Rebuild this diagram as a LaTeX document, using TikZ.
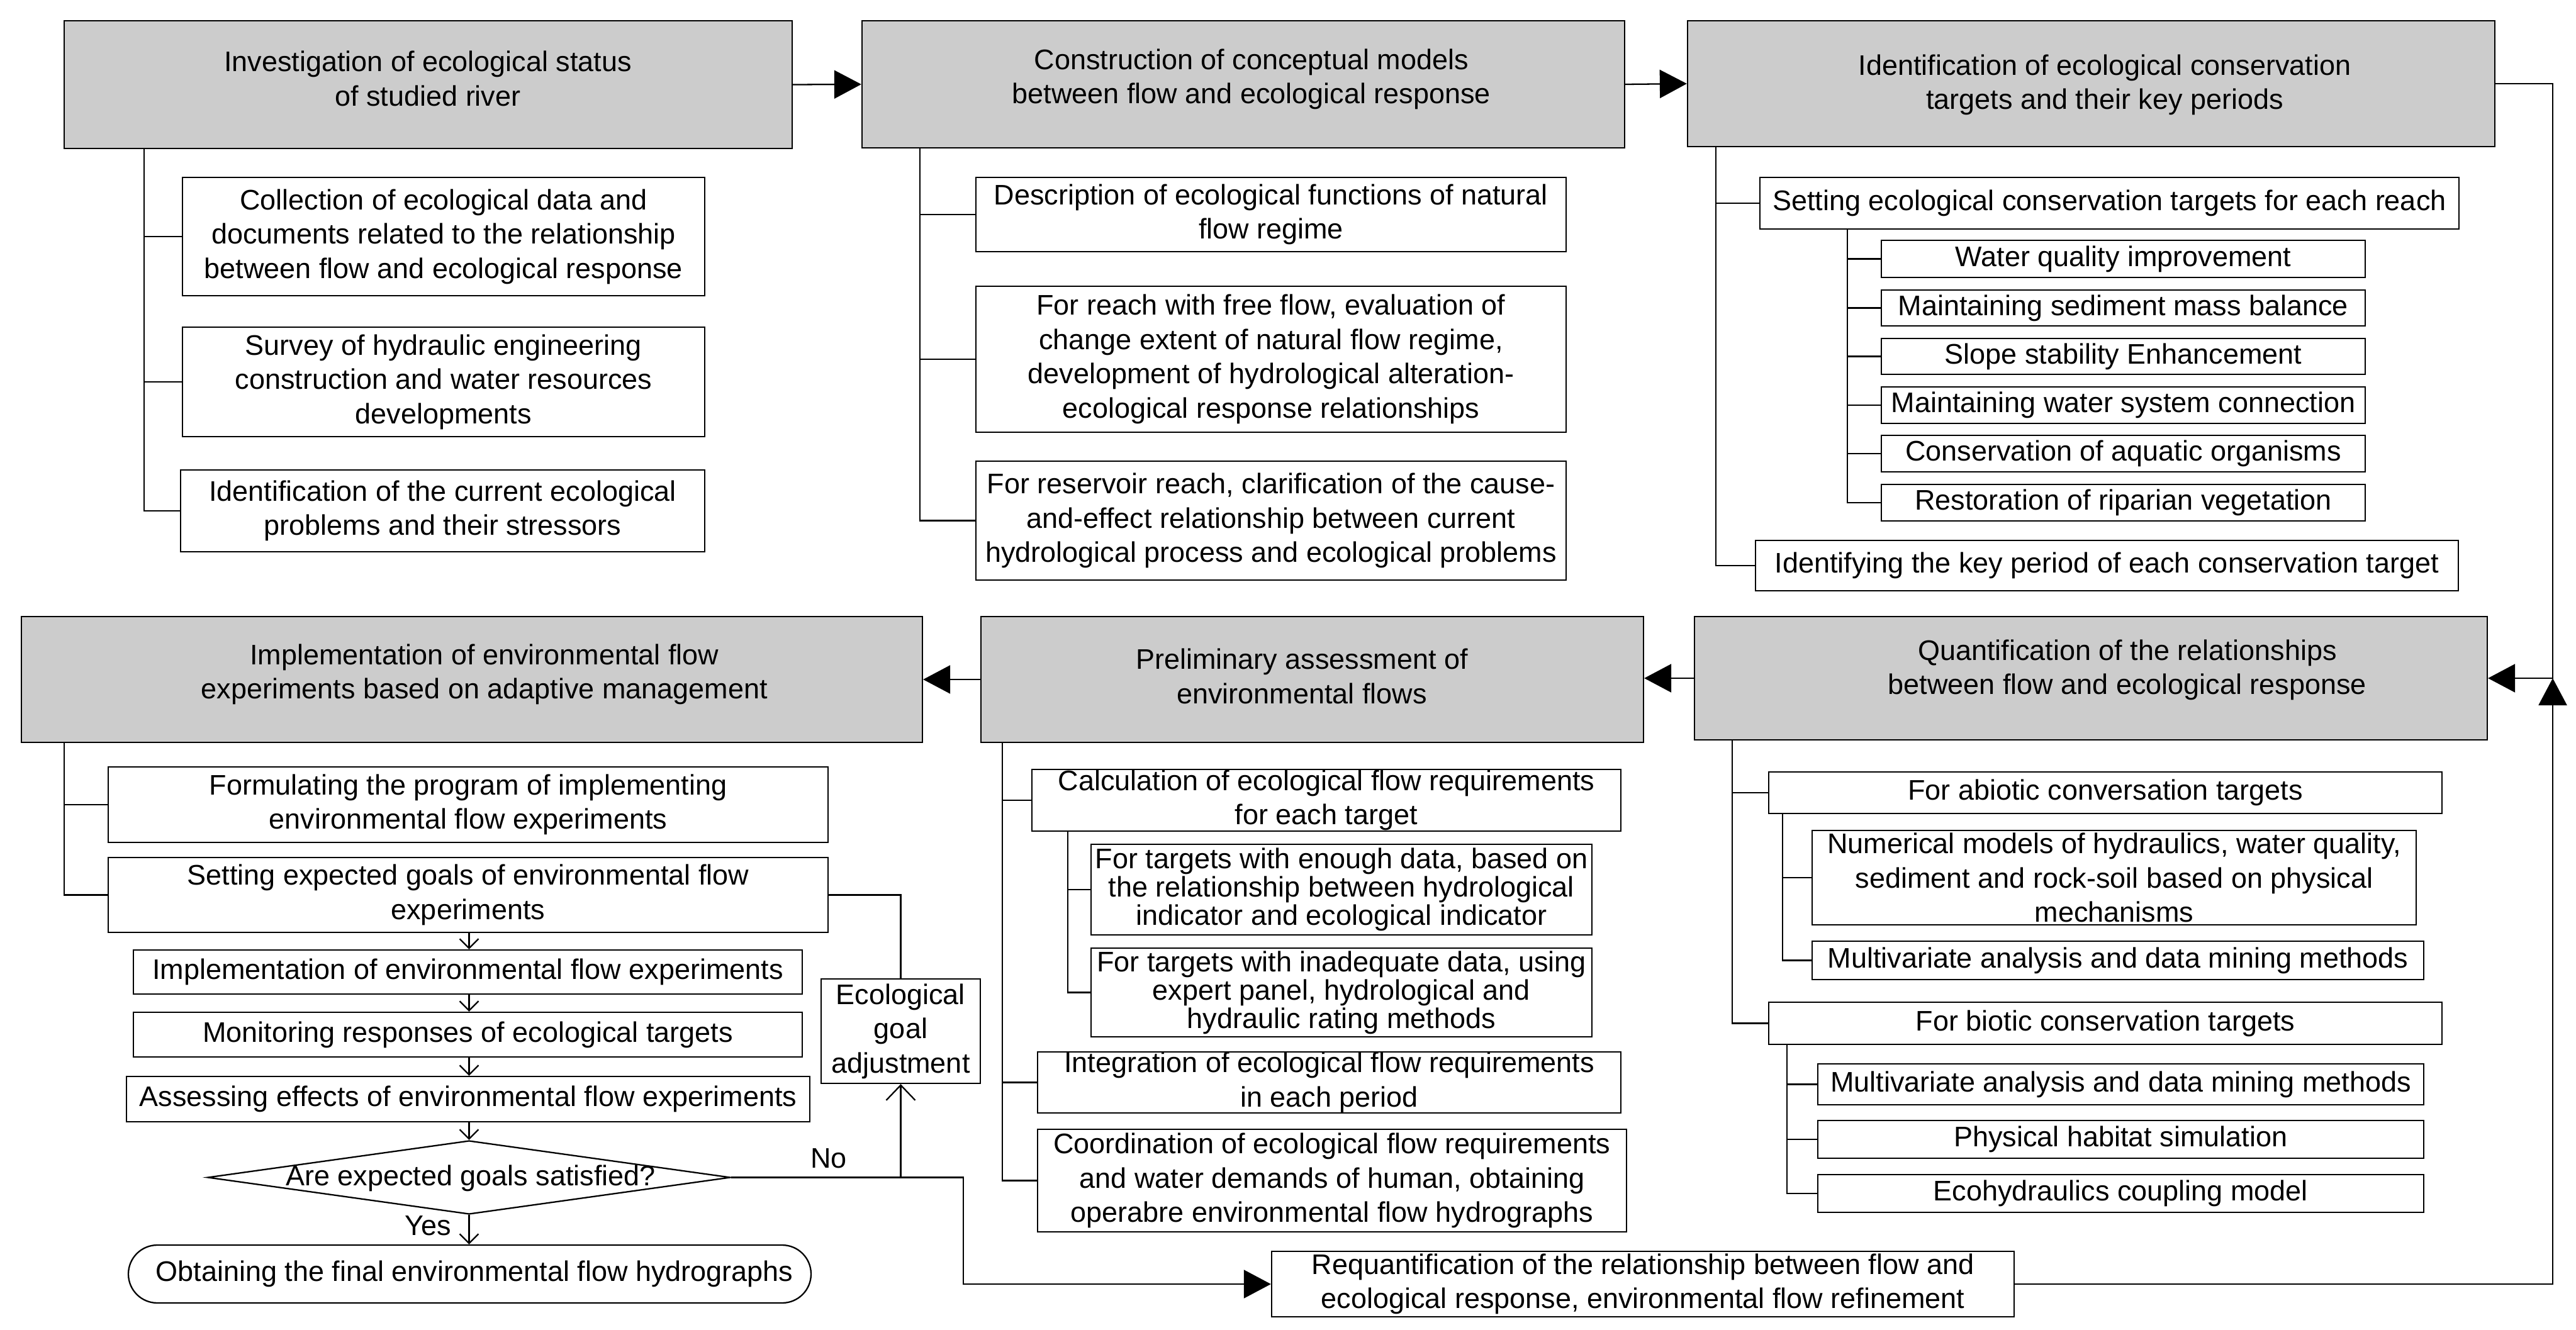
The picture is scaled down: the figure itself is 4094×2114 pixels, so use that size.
\documentclass[tikz,border=0pt]{standalone}
\usepackage{fontspec}
\setmainfont{Liberation Sans}
\usetikzlibrary{arrows.meta,shapes.geometric}
\definecolor{gfill}{RGB}{204,204,204}
% box with centered text: name, boxstyle, textstyle, x1,y1,x2,y2, text
\newcommand\BX[8]{%
  \node[#2, minimum width={(#6-#4)*0.1mm}, minimum height={(#7-#5)*0.1mm}] (#1) at ({(#4+#6)/2},{(#5+#7)/2}) {};
  \node[#3] (#1t) at (#1.center) {#8};}
% gray box with text at given point: name, x1,y1,x2,y2, tx,ty, text
\newcommand\GBX[8]{%
  \node[gbox, minimum width={(#4-#2)*0.1mm}, minimum height={(#5-#3)*0.1mm}] (#1) at ({(#2+#4)/2},{(#3+#5)/2}) {};
  \node[txt] (#1t) at (#6,#7) {#8};}
\begin{document}
\begin{tikzpicture}[x=0.1mm,y=-0.1mm,line width=0.65pt,
  every node/.style={font=\fontsize{12.8pt}{15.5pt}\selectfont},
  txt/.style={align=center, inner sep=0pt},
  tight/.style={align=center, inner sep=0pt, font=\fontsize{12.8pt}{12.8pt}\selectfont},
  wbox/.style={draw, fill=white, inner sep=0pt},
  gbox/.style={draw, fill=gfill, inner sep=0pt},
  big/.style={-{Triangle[length=4.3mm,width=4.5mm]}},
  sm/.style={-{Straight Barb[length=1.5mm,width=3mm]}},
  smb/.style={-{Straight Barb[length=2.4mm,width=4.6mm]}}]
\fill[white] (0,0) rectangle (4094,2114);
\useasboundingbox (0,0) rectangle (4094,2114);

% ---------- main gray boxes ----------
\GBX{b1}{102}{33}{1259}{236}{680}{125}{Investigation of ecological status\\of studied river}
\GBX{b2}{1370}{33}{2582}{235}{1989}{126}{Construction of conceptual models\\between flow and ecological response}
\GBX{b3}{2682}{33}{3965}{233}{3345}{135}{Identification of ecological conservation\\targets and their key periods}
\GBX{b4}{2693}{980}{3953}{1176}{3381}{1065}{Quantification of the relationships\\between flow and ecological response}
\GBX{b5}{1559}{980}{2612}{1180}{2069}{1075}{Preliminary assessment of\\environmental flows}
\GBX{b6}{34}{980}{1466}{1180}{770}{1072}{Implementation of environmental flow\\experiments based on adaptive management}

% ---------- column 1 ----------
\BX{c1}{wbox}{txt}{290}{282}{1120}{470}{Collection of ecological data and\\documents related to the relationship\\between flow and ecological response}
\BX{c2}{wbox}{txt}{290}{520}{1120}{694}{Survey of hydraulic engineering\\construction and water resources\\developments}
\BX{c3}{wbox}{txt}{287}{747}{1120}{877}{Identification of the current ecological\\problems and their stressors}

% ---------- column 2 ----------
\BX{d1}{wbox}{txt}{1551}{282}{2489}{400}{Description of ecological functions of natural\\flow regime}
\BX{d2}{wbox}{txt}{1551}{455}{2489}{687}{For reach with free flow, evaluation of\\change extent of natural flow regime,\\development of hydrological alteration-\\ecological response relationships}
\BX{d3}{wbox}{txt}{1551}{733}{2489}{922}{For reservoir reach, clarification of the cause-\\and-effect relationship between current\\hydrological process and ecological problems}

% ---------- column 3 ----------
\BX{e1}{wbox}{txt}{2797}{282}{3908}{364}{Setting ecological conservation targets for each reach}
\BX{f1}{wbox}{txt}{2990}{382}{3759}{441}{Water quality improvement}
\BX{f2}{wbox}{txt}{2990}{461}{3759}{518}{Maintaining sediment mass balance}
\BX{f3}{wbox}{txt}{2990}{538}{3759}{595}{Slope stability Enhancement}
\BX{f4}{wbox}{txt}{2990}{615}{3759}{673}{Maintaining water system connection}
\BX{f5}{wbox}{txt}{2990}{692}{3759}{750}{Conservation of aquatic organisms}
\BX{f6}{wbox}{txt}{2990}{770}{3759}{828}{Restoration of riparian vegetation}
\BX{e2}{wbox}{txt}{2790}{859}{3907}{939}{Identifying the key period of each conservation target}

% ---------- lower left ----------
\BX{h1}{wbox}{txt}{172}{1219}{1316}{1339}{Formulating the program of implementing\\environmental flow experiments}
\BX{h2}{wbox}{txt}{172}{1363}{1316}{1482}{Setting expected goals of environmental flow\\experiments}
\BX{i1}{wbox}{txt}{212}{1510}{1275}{1580}{Implementation of environmental flow experiments}
\BX{i2}{wbox}{txt}{212}{1609}{1275}{1680}{Monitoring responses of ecological targets}
\BX{i3}{wbox}{txt}{201}{1711}{1287}{1783}{Assessing effects of environmental flow experiments}
\node[diamond, draw, fill=white, inner sep=0pt, minimum width=83.1mm, minimum height=11.7mm] (dia) at (745.5,1871.5) {};
\node[txt] (diat) at (748,1873) {Are expected goals satisfied?};
\node[draw, fill=white, rounded corners=4.6mm, inner sep=0pt, minimum width=108.5mm, minimum height=9.2mm] (term) at (746.5,2025) {};
\node[txt] (termt) at (754,2025) {Obtaining the final environmental flow hydrographs};
\BX{eco}{wbox}{txt}{1305}{1556}{1558}{1722}{Ecological\\goal\\adjustment}

% ---------- lower middle ----------
\BX{l1}{wbox}{txt}{1640}{1223}{2576}{1321}{Calculation of ecological flow requirements\\for each target}
\BX{m1}{wbox}{tight}{1734}{1342}{2530}{1486}{For targets with enough data, based on\\the relationship between hydrological\\indicator and ecological indicator}
\BX{m2}{wbox}{tight}{1734}{1507}{2530}{1648}{For targets with inadequate data, using\\expert panel, hydrological and\\hydraulic rating methods}
\BX{l2}{wbox}{txt}{1649}{1672}{2576}{1769}{Integration of ecological flow requirements\\in each period}
\BX{l3}{wbox}{txt}{1649}{1795}{2585}{1958}{Coordination of ecological flow requirements\\and water demands of human, obtaining\\operabre environmental flow hydrographs}
\BX{n}{wbox}{txt}{2021}{1989}{3201}{2093}{Requantification of the relationship between flow and\\ecological response, environmental flow refinement}

% ---------- lower right ----------
\BX{p1}{wbox}{txt}{2811}{1227}{3881}{1293}{For abiotic conversation targets}
\BX{q1}{wbox}{txt}{2880}{1320}{3840}{1470}{Numerical models of hydraulics, water quality,\\sediment and rock-soil based on physical\\mechanisms}
\BX{q2}{wbox}{txt}{2880}{1496}{3852}{1557}{Multivariate analysis and data mining methods}
\BX{p2}{wbox}{txt}{2811}{1593}{3881}{1660}{For biotic conservation targets}
\BX{r1}{wbox}{txt}{2889}{1691}{3852}{1756}{Multivariate analysis and data mining methods}
\BX{r2}{wbox}{txt}{2889}{1781}{3852}{1841}{Physical habitat simulation}
\BX{r3}{wbox}{txt}{2889}{1867}{3852}{1927}{Ecohydraulics coupling model}

% ---------- tree connectors ----------
\path (b1.south west) ++(128,0) coordinate (t1);
\path (b2.south west) ++(93,0) coordinate (t2);
\path (b3.south west) ++(46,0) coordinate (t3);
\path (e1.south west) ++(140,0) coordinate (t3s);
\path (b6.south west) ++(69,0) coordinate (t6);
\path (b5.south west) ++(35,0) coordinate (t5);
\path (l1.south west) ++(58,0) coordinate (t5s);
\path (b4.south west) ++(61,0) coordinate (t4);
\path (p1.south west) ++(23,0) coordinate (t4a);
\path (p2.south west) ++(30,0) coordinate (t4b);
\draw (t1) |- (c1.west) (t1) |- (c2.west) (t1) |- (c3.west);
\draw (t2) |- (d1.west) (t2) |- (d2.west) (t2) |- (d3.west);
\draw (t3) |- (e1.west) (t3) |- (e2.west);
\draw (t3s) |- (f1.west) (t3s) |- (f2.west) (t3s) |- (f3.west)
      (t3s) |- (f4.west) (t3s) |- (f5.west) (t3s) |- (f6.west);
\draw (t6) |- (h1.west) (t6) |- (h2.west);
\draw (t5) |- (l1.west) (t5) |- (l2.west) (t5) |- (l3.west);
\draw (t5s) |- (m1.west) (t5s) |- (m2.west);
\draw (t4) |- (p1.west) (t4) |- (p2.west);
\draw (t4a) |- (q1.west) (t4a) |- (q2.west);
\draw (t4b) |- (r1.west) (t4b) |- (r2.west) (t4b) |- (r3.west);

% ---------- main arrows ----------
\coordinate (fb) at (4057,1078);
\draw[big] (b1.east) -- (b2.west);
\draw[big] (b2.east) -- (b3.west);
\draw[big] (b3.east) -| (fb) -- (b4.east);
\draw[big] (b4.west) -- (b4.west -| b5.east);
\draw[big] (b5.west) -- (b5.west -| b6.east);
\draw[big] (n.east) -| (fb);

% ---------- adaptive management loop ----------
\draw[sm] (h2.south -| dia.north) -- (i1.north -| dia.north);
\draw[sm] (i1.south -| dia.north) -- (i2.north -| dia.north);
\draw[sm] (i2.south -| dia.north) -- (i3.north -| dia.north);
\draw[sm] (i3.south -| dia.north) -- (dia.north);
\draw[sm] (dia.south) -- (term.north -| dia.south);
\node[txt] (yes) at (680,1948) {Yes};
\node[txt] (no) at (1317,1841) {No};
\coordinate (nc) at (1531,2041);
\draw[big] (dia.east) -| (nc) -- (n.west);
\draw[smb] (eco.south |- dia.east) -- (eco.south);
\draw (h2.east) -| (eco.north);
\end{tikzpicture}
\end{document}
